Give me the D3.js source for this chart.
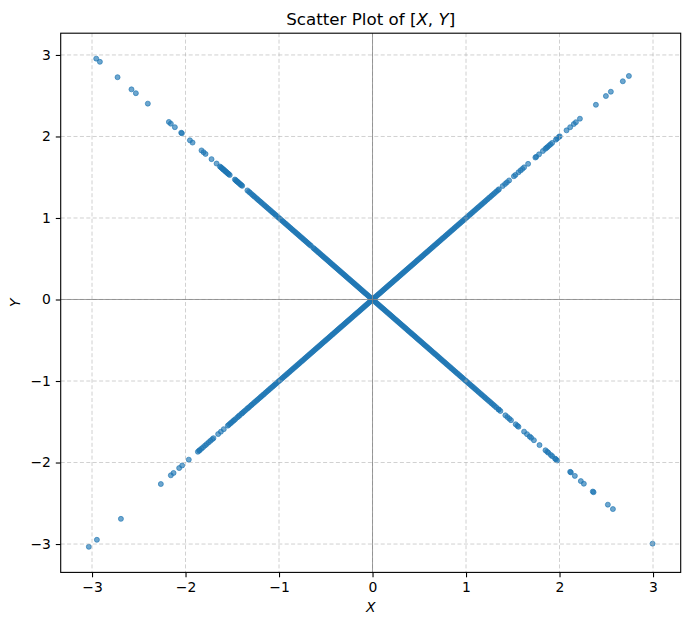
<!DOCTYPE html>
<html>
<head>
<meta charset="utf-8">
<script src="https://cdn.jsdelivr.net/npm/d3@7"></script>
<style>
  html, body { margin: 0; padding: 0; background: #ffffff; }
  svg { display: block; }
  text { font-family: "DejaVu Sans", sans-serif; }
</style>
</head>
<body>
<div id="chart"></div>
<script>
// ---------------- data ----------------
const title = "Scatter Plot of ";
const xLabel = "X";
const yLabel = "Y";
const xTicks = [-3, -2, -1, 0, 1, 2, 3];
const yTicks = [-3, -2, -1, 0, 1, 2, 3];

// X values of points lying on the rising diagonal (Y = X), X < 0
const risingNeg = [
  -3.034, -2.948, -2.691, -2.264, -2.157, -2.128, -2.068, -2.036, -1.965,
  -1.868, -1.855, -1.847, -1.830, -1.812, -1.791, -1.772, -1.751, -1.733, -1.714, -1.701,
  -1.651, -1.622, -1.591,
  -1.548, -1.536, -1.521, -1.509, -1.494, -1.482, -1.468, -1.447, -1.433, -1.421, -1.402,
  -1.391, -1.377, -1.362, -1.344, -1.331, -1.318, -1.301, -1.289, -1.272, -1.258, -1.243,
  -1.229, -1.214, -1.199, -1.186, -1.171, -1.158, -1.142, -1.127, -1.113, -1.098, -1.084,
  -1.069, -1.055, -1.041, -1.027, -1.013, -0.998, -0.985, -0.971, -0.957, -0.943, -0.929,
  -0.916, -0.902, -0.888, -0.875, -0.861, -0.848, -0.834, -0.821, -0.807, -0.794, -0.781,
  -0.767, -0.754, -0.741, -0.728, -0.715, -0.702, -0.689, -0.676, -0.663, -0.650, -0.637,
  -0.624, -0.611, -0.598, -0.586, -0.573, -0.560, -0.547, -0.535, -0.522, -0.509, -0.497,
  -0.484, -0.472, -0.459, -0.447, -0.434, -0.422, -0.409, -0.397, -0.384, -0.372, -0.360,
  -0.347, -0.335, -0.323, -0.310, -0.298, -0.286, -0.274, -0.261, -0.249, -0.237, -0.225,
  -0.213, -0.200, -0.188, -0.176, -0.164, -0.152, -0.140, -0.128, -0.116, -0.104, -0.092,
  -0.080, -0.068, -0.056, -0.044, -0.032, -0.020, -0.009
];
// X values of points lying on the rising diagonal (Y = X), X > 0
const risingPos = [
  0.004, 0.015, 0.027, 0.039, 0.051, 0.063, 0.075, 0.087, 0.099, 0.111, 0.123, 0.135,
  0.147, 0.159, 0.171, 0.183, 0.195, 0.207, 0.219, 0.232, 0.244, 0.256, 0.268, 0.281,
  0.293, 0.305, 0.318, 0.330, 0.342, 0.355, 0.367, 0.380, 0.392, 0.405, 0.417, 0.430,
  0.442, 0.455, 0.468, 0.480, 0.493, 0.506, 0.519, 0.531, 0.544, 0.557, 0.570, 0.583,
  0.596, 0.609, 0.622, 0.635, 0.648, 0.661, 0.675, 0.688, 0.701, 0.714, 0.728, 0.741,
  0.754, 0.768, 0.781, 0.795, 0.808, 0.822, 0.836, 0.849, 0.863, 0.877, 0.891, 0.905,
  0.919, 0.933, 0.947, 0.961, 0.975, 0.989, 1.004, 1.018, 1.033, 1.047, 1.062, 1.076,
  1.091, 1.106, 1.121, 1.136, 1.151, 1.166, 1.181, 1.197, 1.212, 1.228, 1.244, 1.259,
  1.275, 1.291, 1.308, 1.324, 1.341, 1.352,
  1.392, 1.418, 1.437, 1.461,
  1.512, 1.528, 1.561, 1.583, 1.602, 1.621,
  1.664,
  1.742, 1.751, 1.781, 1.822, 1.848, 1.861, 1.872, 1.889, 1.904, 1.921,
  1.961, 1.975, 1.993, 2.002,
  2.075, 2.114, 2.153, 2.175, 2.218, 2.389, 2.496, 2.549, 2.677, 2.742
];
// X values of points lying on the falling diagonal (Y = -X), X < 0
const fallingNeg = [
  -2.955, -2.916, -2.727, -2.578, -2.531, -2.403, -2.178, -2.157, -2.114, -2.046, -2.039,
  -1.953, -1.925, -1.829, -1.807, -1.786, -1.722, -1.668,
  -1.632, -1.621, -1.612, -1.603, -1.595, -1.588, -1.579, -1.571, -1.562, -1.553, -1.545,
  -1.538, -1.527,
  -1.472, -1.463, -1.455, -1.447, -1.441, -1.432, -1.421, -1.412, -1.403, -1.394,
  -1.338, -1.322, -1.309, -1.291, -1.276, -1.262, -1.245, -1.231, -1.216, -1.201, -1.187,
  -1.172, -1.156, -1.141, -1.127, -1.112, -1.097, -1.083, -1.068, -1.054, -1.039, -1.025,
  -1.010, -0.996, -0.982, -0.967, -0.953, -0.939, -0.926, -0.912, -0.898, -0.884, -0.871,
  -0.857, -0.844, -0.830, -0.817, -0.803, -0.790, -0.777, -0.763, -0.750, -0.737, -0.724,
  -0.711, -0.698, -0.685, -0.672, -0.659, -0.633, -0.620, -0.607, -0.594, -0.581, -0.569,
  -0.556, -0.543, -0.531, -0.518, -0.505, -0.493, -0.480, -0.468, -0.455, -0.443, -0.430,
  -0.418, -0.405, -0.393, -0.381, -0.368, -0.356, -0.344, -0.332, -0.319, -0.307, -0.295,
  -0.283, -0.271, -0.258, -0.246, -0.234, -0.222, -0.210, -0.198, -0.186, -0.174, -0.162,
  -0.150, -0.138, -0.126, -0.114, -0.102, -0.090, -0.078, -0.066, -0.054, -0.042, -0.030,
  -0.018, -0.006
];
// X values of points lying on the falling diagonal (Y = -X), X > 0
const fallingPos = [
  0.008, 0.019, 0.031, 0.043, 0.055, 0.067, 0.079, 0.091, 0.103, 0.115, 0.127, 0.139,
  0.151, 0.163, 0.176, 0.188, 0.200, 0.212, 0.224, 0.237, 0.249, 0.261, 0.273, 0.286,
  0.298, 0.311, 0.323, 0.335, 0.348, 0.360, 0.373, 0.385, 0.398, 0.411, 0.423, 0.436,
  0.449, 0.461, 0.474, 0.487, 0.500, 0.512, 0.525, 0.538, 0.551, 0.564, 0.577, 0.590,
  0.603, 0.616, 0.629, 0.643, 0.656, 0.669, 0.682, 0.696, 0.709, 0.723, 0.736, 0.750,
  0.763, 0.777, 0.790, 0.804, 0.818, 0.832, 0.845, 0.859, 0.873, 0.887, 0.901, 0.915,
  0.930, 0.944, 0.958, 0.972, 0.987, 1.001, 1.016, 1.030, 1.045, 1.060, 1.074, 1.089,
  1.104, 1.119, 1.134, 1.150, 1.165, 1.180, 1.196, 1.211, 1.227, 1.243, 1.259, 1.275,
  1.291, 1.307, 1.324, 1.346,
  1.352, 1.368, 1.421, 1.442, 1.463, 1.481,
  1.531, 1.549, 1.561, 1.621, 1.652, 1.681, 1.697, 1.726,
  1.786, 1.850, 1.868, 1.881, 1.907, 1.922, 1.952, 1.961, 1.975,
  2.114, 2.121, 2.164, 2.228, 2.260, 2.356, 2.364, 2.517, 2.571, 2.995
];

// ---------------- layout ----------------
const W = 689, H = 625;
const plot = { left: 60.7, right: 680.7, top: 33.2, bottom: 572.4 };
const xDomain = [-3.335, 3.296];
const yDomain = [-3.348, 3.267];
const pointColor = "#1f77b4";

const points = []
  .concat(risingNeg.map(v => ({ x: v, y: v })))
  .concat(risingPos.map(v => ({ x: v, y: v })))
  .concat(fallingNeg.map(v => ({ x: v, y: -v })))
  .concat(fallingPos.map(v => ({ x: v, y: -v })));

const svg = d3.select("#chart").append("svg")
  .attr("width", W).attr("height", H)
  .attr("viewBox", `0 0 ${W} ${H}`);

svg.append("rect").attr("width", W).attr("height", H).attr("fill", "#ffffff");

const x = d3.scaleLinear().domain(xDomain).range([plot.left, plot.right]);
const y = d3.scaleLinear().domain(yDomain).range([plot.bottom, plot.top]);

const fmt = d => d < 0 ? "\u2212" + Math.abs(d) : String(d);

// points
svg.append("g").selectAll("circle").data(points).join("circle")
  .attr("cx", d => x(d.x))
  .attr("cy", d => y(d.y))
  .attr("r", 2.5)
  .attr("fill", pointColor)
  .attr("fill-opacity", 0.65)
  .attr("stroke", pointColor)
  .attr("stroke-opacity", 0.65)
  .attr("stroke-width", 1);

// grid
const grid = svg.append("g")
  .attr("stroke", "#b0b0b0")
  .attr("stroke-opacity", 0.6)
  .attr("stroke-width", 1)
  .attr("stroke-dasharray", "4,2.4");
grid.selectAll("line.gx").data(xTicks).join("line").attr("class", "gx")
  .attr("x1", d => x(d)).attr("x2", d => x(d))
  .attr("y1", plot.top).attr("y2", plot.bottom);
grid.selectAll("line.gy").data(yTicks).join("line").attr("class", "gy")
  .attr("y1", d => y(d)).attr("y2", d => y(d))
  .attr("x1", plot.left).attr("x2", plot.right);

// zero lines
svg.append("line")
  .attr("x1", x(0)).attr("x2", x(0)).attr("y1", plot.top).attr("y2", plot.bottom)
  .attr("stroke", "#808080").attr("stroke-width", 0.9).attr("stroke-opacity", 0.85);
svg.append("line")
  .attr("y1", y(0)).attr("y2", y(0)).attr("x1", plot.left).attr("x2", plot.right)
  .attr("stroke", "#808080").attr("stroke-width", 0.9).attr("stroke-opacity", 0.85);

// axes
const xAxis = svg.append("g")
  .attr("transform", `translate(0,${plot.bottom})`)
  .call(d3.axisBottom(x).tickValues(xTicks).tickFormat(fmt).tickSize(4.9).tickPadding(4.9));
const yAxis = svg.append("g")
  .attr("transform", `translate(${plot.left},0)`)
  .call(d3.axisLeft(y).tickValues(yTicks).tickFormat(fmt).tickSize(4.9).tickPadding(4.9));
[xAxis, yAxis].forEach(g => {
  g.select(".domain").remove();
  g.selectAll(".tick line").attr("stroke", "#000").attr("stroke-width", 1.1);
  g.selectAll(".tick text")
    .attr("fill", "#000")
    .style("font-family", "'DejaVu Sans', sans-serif")
    .style("font-size", "13.9px");
});

// frame
svg.append("rect")
  .attr("x", plot.left).attr("y", plot.top)
  .attr("width", plot.right - plot.left).attr("height", plot.bottom - plot.top)
  .attr("fill", "none").attr("stroke", "#000").attr("stroke-width", 1.1);

// title
const t = svg.append("text")
  .attr("x", (plot.left + plot.right) / 2)
  .attr("y", 24.9)
  .attr("text-anchor", "middle")
  .style("font-size", "16.7px")
  .attr("fill", "#000");
t.append("tspan").text(title + "[");
t.append("tspan").style("font-style", "italic").text("X");
t.append("tspan").text(", ");
t.append("tspan").style("font-style", "italic").text("Y");
t.append("tspan").text("]");

// axis labels
svg.append("text")
  .attr("x", (plot.left + plot.right) / 2)
  .attr("y", 612)
  .attr("text-anchor", "middle")
  .style("font-size", "13.9px")
  .style("font-style", "italic")
  .attr("fill", "#000")
  .text(xLabel);
svg.append("text")
  .attr("transform", `translate(19.5,${(plot.top + plot.bottom) / 2}) rotate(-90)`)
  .attr("text-anchor", "middle")
  .style("font-size", "13.9px")
  .style("font-style", "italic")
  .attr("fill", "#000")
  .text(yLabel);
</script>
</body>
</html>
